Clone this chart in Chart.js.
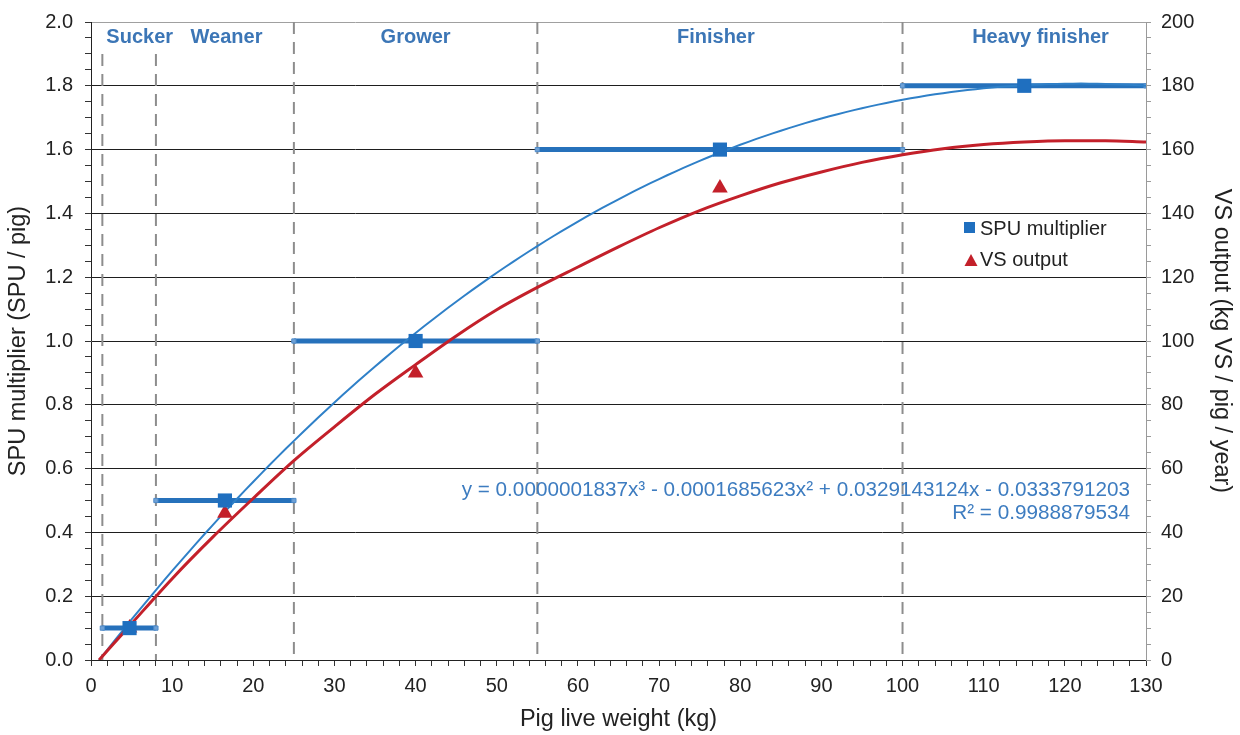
<!DOCTYPE html>
<html>
<head>
<meta charset="utf-8">
<title>SPU multiplier and VS output by pig live weight</title>
<script src="https://cdn.jsdelivr.net/npm/chart.js@4"></script>
<style>
html,body{margin:0;padding:0;background:#fff;}
#wrap{width:1240px;height:735px;}
</style>
</head>
<body>
<div id="wrap"><canvas id="pigChart" width="1240" height="735"></canvas></div>
<script>
/* production stages */
const stageNames = ["Sucker", "Weaner", "Grower", "Finisher", "Heavy finisher"];
const stageLabelX = [6, 16.7, 40, 77, 117];
const stageStart = [1.4, 8, 25, 55, 100];
const stageEnd = [8, 25, 55, 100, 130];
const stageMid = [4.75, 16.5, 40, 77.5, 115];
const boundaryTop = [1.9, 1.9, 2, 2, 2];

/* SPU per pig, and VS output (kg VS / pig / year) */
const spuMultiplier = [0.1, 0.5, 1.0, 1.6, 1.8];
const vsOutput = [10, 46, 90, 148];

/* cubic trendline of the SPU multiplier, highest power first */
const trendCoef = [0.0000001837, -0.0001685623, 0.0329143124, -0.0333791203];
const trendR2 = "0.9988879534";

/* VS output curve */
const vsCurveX = [1, 5, 10, 15, 20, 25, 30, 35, 40, 45, 50, 55, 60, 65, 70, 75, 80, 85, 90, 95, 100, 105, 110, 115, 120, 125, 130];
const vsCurveY = [0, 11.4, 25.5, 38.5, 50.7, 62.5, 73.1, 83.3, 92.6, 101.6, 109.8, 116.8, 123.2, 129.5, 135.5, 140.9, 145.5, 149.6, 153.0, 156.0, 158.4, 160.3, 161.6, 162.4, 162.8, 162.8, 162.4];

const FONT = '"Liberation Sans", Arial, sans-serif';
const BLUE = "#2671bb";
const RED = "#c3202a";

Chart.defaults.font.family = FONT;
Chart.defaults.color = "#222";

function trend(x){
    return ((trendCoef[0]*x + trendCoef[1])*x + trendCoef[2])*x + trendCoef[3];
}
let trendPts = [];
for(let x=1; x<=130; x++) trendPts.push({x:x, y:trend(x)});

let isMajor = (v, step) => Math.abs(v/step - Math.round(v/step)) < 1e-6;

/* dashed stage boundaries */
let boundarySets = stageStart.map((bx,i)=>({
    data:[{x:bx,y:boundaryTop[i]},{x:bx,y:0}],
    borderColor:"#8d8d8d", borderWidth:2, borderDash:[12,8],
    pointRadius:0, yAxisID:"y", order:10
}));

/* stage ranges */
let rangeSets = stageStart.map((s,i)=>({
    data:[{x:s,y:spuMultiplier[i]},{x:stageEnd[i],y:spuMultiplier[i]}],
    borderColor:BLUE, borderWidth:5,
    pointStyle:"rect", pointRadius:3, pointBorderWidth:1,
    pointBackgroundColor:"#6fa1d6", pointBorderColor:"#4f8bc9",
    yAxisID:"y", order:8
}));

const datasets = [
    ...boundarySets,
    ...rangeSets,
    {
        label:"SPU trend", data:trendPts,
        borderColor:"#2f80c8", borderWidth:2, pointRadius:0,
        yAxisID:"y", order:6
    },
    {
        label:"VS curve",
        data:vsCurveX.map((x,i)=>({x:x,y:vsCurveY[i]})),
        borderColor:RED, borderWidth:3, pointRadius:0,
        cubicInterpolationMode:"monotone",
        yAxisID:"y2", order:5
    },
    {
        label:"VS output",
        data:vsOutput.map((v,i)=>({x:stageMid[i],y:v})),
        showLine:false, pointStyle:"triangle", pointRadius:9,
        pointBackgroundColor:RED, pointBorderWidth:0,
        yAxisID:"y2", order:3
    },
    {
        label:"SPU multiplier",
        data:spuMultiplier.map((v,i)=>({x:stageMid[i],y:v})),
        showLine:false, pointStyle:"rect", pointRadius:10,
        pointBackgroundColor:"#1f6fbf", pointBorderWidth:0,
        yAxisID:"y", order:2
    }
];

/* stage names, trendline equation and legend */
const annotations = {
    id:"annotations",
    afterDatasetsDraw(chart){
        let {ctx, chartArea:a, scales} = chart;
        ctx.save();

        ctx.font = "bold 20px " + FONT;
        ctx.fillStyle = "#3c76b6";
        ctx.textAlign = "center";
        ctx.textBaseline = "alphabetic";
        stageNames.forEach((n,i)=>ctx.fillText(n, scales.x.getPixelForValue(stageLabelX[i]), a.top+21));

        let c = trendCoef.map(v=>Math.abs(v).toFixed(10));
        let eq = "y = " + c[0] + "x\u00B3 - " + c[1] + "x\u00B2 + " + c[2] + "x - " + c[3];
        ctx.font = "20.7px " + FONT;
        ctx.fillStyle = "#3d7cc0";
        ctx.textAlign = "right";
        ctx.fillText(eq, a.right-16, a.top+474);
        ctx.fillText("R\u00B2 = " + trendR2, a.right-16, a.top+497);

        // legend
        ctx.font = "20px " + FONT;
        ctx.textAlign = "left";
        ctx.fillStyle = "#1f6fbf";
        ctx.fillRect(964, 222, 11, 11);
        ctx.fillStyle = RED;
        ctx.beginPath();
        ctx.moveTo(971, 254);
        ctx.lineTo(977.5, 266);
        ctx.lineTo(964.5, 266);
        ctx.closePath();
        ctx.fill();
        ctx.fillStyle = "#222";
        ctx.fillText("SPU multiplier", 980, 235);
        ctx.fillText("VS output", 980, 266);

        ctx.restore();
    }
};

new Chart(document.getElementById("pigChart"), {
    type:"line",
    data:{datasets:datasets},
    options:{
        responsive:false,
        animation:false,
        layout:{padding:{top:21,left:0,right:0,bottom:0}},
        plugins:{legend:{display:false}, tooltip:{enabled:false}},
        scales:{
            x:{
                type:"linear", position:"bottom", min:0, max:130,
                afterFit:s=>{s.height=75;},
                ticks:{stepSize:2, autoSkip:false, maxRotation:0, padding:8,
                    font:{size:20}, color:"#222",
                    callback:v=>isMajor(v,10)?String(Math.round(v)):""},
                grid:{drawOnChartArea:false, tickLength:6, tickColor:"#333"},
                border:{color:"#222"},
                title:{display:true, text:"Pig live weight (kg)", font:{size:23.5}, color:"#222", padding:{top:0,bottom:1}}
            },
            y:{
                type:"linear", position:"left", min:0, max:2,
                afterFit:s=>{s.width=91;},
                ticks:{stepSize:0.05, autoSkip:false, padding:12,
                    font:{size:20, lineHeight:1}, color:"#222",
                    callback:v=>isMajor(v,0.2)?v.toFixed(1):""},
                grid:{
                    color:c=>{
                        let v=c.tick.value;
                        if(Math.abs(v-2)<1e-6) return "#a0a0a0";
                        return isMajor(v,0.2)?"#1e1e1e":"rgba(0,0,0,0)";
                    },
                    tickLength:6, tickColor:"#333"
                },
                border:{color:"#222"},
                title:{display:true, text:"SPU multiplier (SPU / pig)", font:{size:23.5}, color:"#222", padding:{top:4,bottom:0}}
            },
            y2:{
                type:"linear", position:"right", min:0, max:200,
                afterFit:s=>{s.width=94;},
                ticks:{stepSize:5, autoSkip:false, padding:10,
                    font:{size:20, lineHeight:1}, color:"#222",
                    callback:v=>isMajor(v,20)?String(Math.round(v)):""},
                grid:{drawOnChartArea:false, tickLength:5, tickColor:"#9a9a9a"},
                border:{color:"#9a9a9a"},
                title:{display:true, text:"VS output (kg VS / pig / year)", font:{size:23.5}, color:"#222", padding:{top:4,bottom:0}}
            }
        }
    },
    plugins:[annotations]
});
</script>
</body>
</html>
